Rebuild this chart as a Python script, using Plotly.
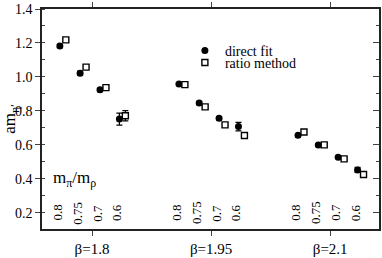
import plotly.graph_objects as go

# ---- data ----
beta_labels = ["β=1.8", "β=1.95", "β=2.1"]
mass_ratios = ["0.8", "0.75", "0.7", "0.6"]

direct_fit = [
    [1.182, 1.022, 0.924, 0.752],
    [0.959, 0.847, 0.757, 0.708],
    [0.657, 0.600, 0.528, 0.453],
]
direct_err = [
    [0.010, 0.012, 0.010, 0.035],
    [0.008, 0.010, 0.010, 0.025],
    [0.008, 0.008, 0.008, 0.015],
]
ratio_method = [
    [1.218, 1.058, 0.937, 0.772],
    [0.955, 0.824, 0.718, 0.655],
    [0.676, 0.600, 0.518, 0.426],
]
ratio_err = [
    [0.008, 0.008, 0.008, 0.030],
    [0.008, 0.008, 0.008, 0.010],
    [0.008, 0.008, 0.008, 0.010],
]

# ---- layout constants ----
offsets = [-0.27, -0.10, 0.067, 0.23]   # position of each mass ratio inside a beta group
sq_shift = 0.05
FONT = "Liberation Serif"
Y_RANGE = [0.105, 1.4]
Y_TICKS = [0.2, 0.4, 0.6, 0.8, 1.0, 1.2, 1.4]

xd, yd, ed, xr, yr, er = [], [], [], [], [], []
for g in range(len(beta_labels)):
    for k in range(len(mass_ratios)):
        xd.append(g + offsets[k]); yd.append(direct_fit[g][k]); ed.append(direct_err[g][k])
        xr.append(g + offsets[k] + sq_shift); yr.append(ratio_method[g][k]); er.append(ratio_err[g][k])

fig = go.Figure()
fig.add_trace(go.Scatter(
    x=xd, y=yd, mode="markers", name="direct fit", legend="legend",
    marker=dict(symbol="circle", size=7, color="black"),
    error_y=dict(type="data", array=ed, color="black", thickness=1.2, width=3),
))
fig.add_trace(go.Scatter(
    x=xr, y=yr, mode="markers", name="ratio method", legend="legend2",
    marker=dict(symbol="square", size=6, color="white", line=dict(width=1.4, color="black")),
    error_y=dict(type="data", array=er, color="black", thickness=1.2, width=3),
))
# invisible trace to activate the right-hand axis ticks
fig.add_trace(go.Scatter(x=[None], y=[None], yaxis="y2", showlegend=False, hoverinfo="skip"))

annotations = []
for g in range(len(beta_labels)):
    for k, lab in enumerate(mass_ratios):
        annotations.append(dict(
            x=g + offsets[k] - 0.018, y=0.2, xref="x", yref="y", text=lab,
            textangle=-90, showarrow=False, xanchor="center", yanchor="middle",
            font=dict(family=FONT, size=13, color="black"),
        ))
annotations.append(dict(
    x=0.028, y=0.4, xref="paper", yref="y", text="m<sub>π</sub>/m<sub>ρ</sub>",
    showarrow=False, xanchor="left", yanchor="middle",
    font=dict(family=FONT, size=17, color="black"),
))

fig.update_layout(
    width=382, height=258,
    margin=dict(l=42, r=3, t=9, b=29, autoexpand=False),
    paper_bgcolor="white", plot_bgcolor="white",
    font=dict(family=FONT, size=14, color="black"),
    annotations=annotations,
    xaxis=dict(
        range=[-0.42, 2.41], tickvals=[0, 1, 2], ticktext=beta_labels,
        ticks="outside", ticklen=5, tickcolor="#444", tickwidth=1,
        showline=True, linecolor="#222", linewidth=1.5,
        mirror="allticks", showgrid=False, zeroline=False,
        tickfont=dict(family=FONT, size=15),
    ),
    yaxis=dict(
        range=Y_RANGE, tickvals=Y_TICKS, ticktext=[f"{v:.1f}" for v in Y_TICKS],
        ticks="outside", ticklen=5, tickcolor="#444", tickwidth=1,
        minor=dict(ticks="inside", ticklen=3, dtick=0.1, tick0=0.1, tickcolor="#444"),
        showline=True, linecolor="#222", linewidth=1.5,
        mirror=True, showgrid=False, zeroline=False,
        tickfont=dict(family=FONT, size=14),
        title=dict(text="am<sub>η′</sub>", standoff=4, font=dict(family=FONT, size=17)),
    ),
    yaxis2=dict(
        overlaying="y", side="right", range=Y_RANGE, showticklabels=False,
        tickvals=Y_TICKS,
        ticks="inside", ticklen=6, tickcolor="#444",
        minor=dict(ticks="inside", ticklen=3, dtick=0.1, tick0=0.1, tickcolor="#444"),
        showgrid=False, zeroline=False, showline=False,
    ),
    legend=dict(x=0.424, y=0.809, xanchor="left", yanchor="middle",
                bgcolor="rgba(0,0,0,0)", font=dict(family=FONT, size=14)),
    legend2=dict(x=0.424, y=0.755, xanchor="left", yanchor="middle",
                 bgcolor="rgba(0,0,0,0)", font=dict(family=FONT, size=14)),
)

fig.write_html("out.html", config={"displayModeBar": False},
               post_script="document.body.style.margin='0';")
